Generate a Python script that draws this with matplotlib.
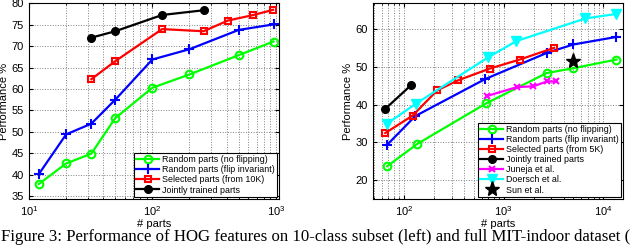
import matplotlib
matplotlib.use("Agg")
import matplotlib.pyplot as plt

plt.rcParams['font.family'] = ['Liberation Sans', 'DejaVu Sans']
plt.rcParams['mathtext.fontset'] = 'custom'
plt.rcParams['mathtext.rm'] = 'Liberation Sans'

# ---- Left: 10-class subset ----
L_green_x = [12, 20, 32, 50, 100, 200, 500, 960]
L_green_y = [37.8, 42.6, 44.9, 53.2, 60.3, 63.4, 67.9, 71.1]
L_blue_x = [12, 20, 32, 50, 100, 200, 500, 960]
L_blue_y = [40.1, 49.4, 51.9, 57.5, 66.9, 69.3, 73.8, 75.1]
L_red_x = [32, 50, 120, 260, 410, 660, 950]
L_red_y = [62.3, 66.5, 74.0, 73.5, 76.0, 77.3, 78.5]
L_black_x = [32, 50, 120, 260]
L_black_y = [72.0, 73.5, 77.3, 78.4]
L_labels = ['Random parts (no flipping)', 'Random parts (flip invariant)',
            'Selected parts (from 10K)', 'Jointly trained parts']

# ---- Right: full MIT-indoor ----
R_green_x = [68, 136, 670, 2690, 5000, 13500]
R_green_y = [23.7, 29.6, 40.4, 48.4, 49.7, 52.0]
R_blue_x = [68, 130, 650, 2730, 5000, 13500]
R_blue_y = [29.4, 37.0, 46.8, 53.8, 56.0, 58.0]
R_red_x = [65, 122, 215, 350, 725, 1450, 3200]
R_red_y = [32.5, 37.1, 43.8, 46.5, 49.6, 52.0, 55.1]
R_black_x = [65, 119]
R_black_y = [38.9, 45.3]
R_mag_x = [675, 1365, 1980, 2730, 3330]
R_mag_y = [42.3, 44.7, 44.9, 46.2, 46.2]
R_cyan_x = [67, 132, 700, 1340, 6600, 13500]
R_cyan_y = [34.9, 40.3, 52.6, 56.9, 62.9, 64.1]
R_star_x = [4970]
R_star_y = [51.5]
R_labels = ['Random parts (no flipping)', 'Random parts (flip invariant)',
            'Selected parts (from 5K)', 'Jointly trained parts',
            'Juneja et al.', 'Doersch et al.', 'Sun et al.']

fig = plt.figure(figsize=(6.4, 2.49), dpi=100)
axL = fig.add_axes([29/640, 50/249, 250/640, 196/249])
axR = fig.add_axes([373/640, 50/249, 250/640, 196/249])

lw = 1.6
ms = 5.5
def style(ax):
    ax.set_xscale('log')
    ax.tick_params(which='both', direction='in', top=True, right=True, labelsize=8, length=3)
    ax.tick_params(which='minor', length=1.5)
    ax.grid(True, which='major', linestyle=':', color='#808080', linewidth=0.7)
    ax.grid(True, which='minor', axis='x', linestyle=':', color='#808080', linewidth=0.7)
    ax.set_xlabel('# parts', fontsize=8, labelpad=1)
    ax.set_ylabel('Performance %', fontsize=8, labelpad=2)
    for s in ax.spines.values():
        s.set_linewidth(0.8)

leg_kw = dict(loc='lower right', fontsize=6.4, frameon=True, fancybox=False, edgecolor='k',
              handlelength=2.6, borderpad=0.25, labelspacing=0.12, handletextpad=0.3,
              borderaxespad=0.25, framealpha=1)

axL.plot(L_green_x, L_green_y, '-o', color=(0, 1, 0), lw=lw, ms=ms, mfc='none', mew=1.5, label=L_labels[0])
axL.plot(L_blue_x, L_blue_y, '-+', color=(0, 0, 1), lw=lw, ms=ms+1, mew=1.5, label=L_labels[1])
axL.plot(L_red_x, L_red_y, '-s', color=(1, 0, 0), lw=lw, ms=ms-0.5, mfc='none', mew=1.5, label=L_labels[2])
axL.plot(L_black_x, L_black_y, '-o', color='k', lw=lw, ms=ms, label=L_labels[3])
style(axL)
axL.set_xlim(10, 1063)
axL.set_ylim(34.3, 80.1)
axL.set_yticks([35, 40, 45, 50, 55, 60, 65, 70, 75, 80])
axL.legend(**leg_kw).get_frame().set_linewidth(0.8)

axR.plot(R_green_x, R_green_y, '-o', color=(0, 1, 0), lw=lw, ms=ms, mfc='none', mew=1.5, label=R_labels[0])
axR.plot(R_blue_x, R_blue_y, '-+', color=(0, 0, 1), lw=lw, ms=ms+1, mew=1.5, label=R_labels[1])
axR.plot(R_red_x, R_red_y, '-s', color=(1, 0, 0), lw=lw, ms=ms-0.5, mfc='none', mew=1.5, label=R_labels[2])
axR.plot(R_black_x, R_black_y, '-o', color='k', lw=lw, ms=ms, label=R_labels[3])
axR.plot(R_mag_x, R_mag_y, '-x', color=(1, 0, 1), lw=lw, ms=ms-0.5, mew=1.5, label=R_labels[4])
axR.plot(R_cyan_x, R_cyan_y, '-v', color=(0, 1, 1), lw=lw, ms=ms+1.5, label=R_labels[5])
axR.plot(R_star_x, R_star_y, '*', color='k', ms=11, ls='none', label=R_labels[6])
style(axR)
axR.set_xlim(49, 15700)
axR.set_ylim(15, 67)
axR.set_yticks([20, 30, 40, 50, 60])
axR.legend(**leg_kw).get_frame().set_linewidth(0.8)

fig.text(1/640, 1 - 237/249, 'Figure 3: Performance of HOG features on 10-class subset (left) and full MIT-indoor dataset (',
         fontsize=12.1, family=['Liberation Serif'], ha='left', va='center')

fig.savefig('out.png', dpi=100)
